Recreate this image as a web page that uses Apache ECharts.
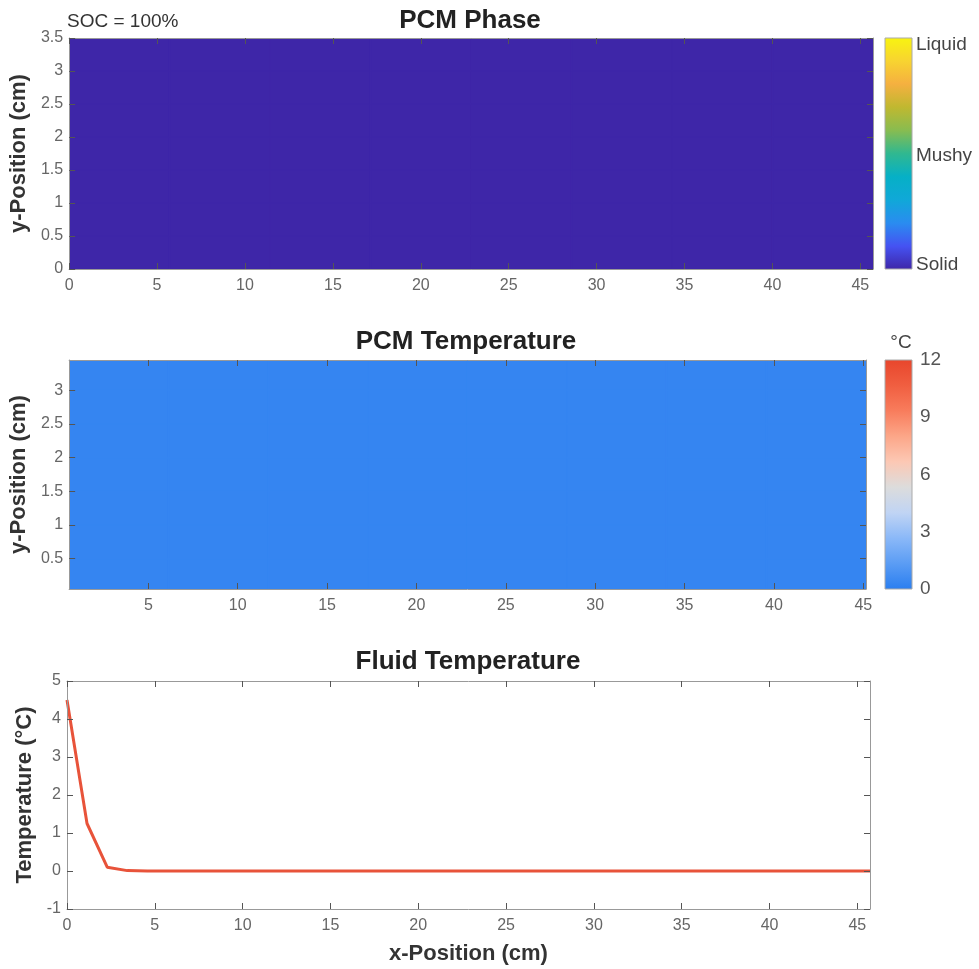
<!DOCTYPE html>
<html>
<head>
<meta charset="utf-8">
<script src="https://cdn.jsdelivr.net/npm/echarts@6/dist/echarts.min.js"></script>
<style>html,body{margin:0;padding:0;background:#fff;}#c{width:979px;height:969px;}</style>
</head>
<body>
<div id="c"></div>
<script>
// ---------- data ----------
const xTicks = [0, 5, 10, 15, 20, 25, 30, 35, 40, 45];
const xTicksTemp = [5, 10, 15, 20, 25, 30, 35, 40, 45];
const yTicksPhase = [0, 0.5, 1, 1.5, 2, 2.5, 3, 3.5];
const yTicksTemp = [0.5, 1, 1.5, 2, 2.5, 3];
const yTicksFluid = [-1, 0, 1, 2, 3, 4, 5];
const phaseCbTicks = [0.02, 0.49, 0.97];
const phaseCbLabels = ['Solid', 'Mushy', 'Liquid'];
const tempCbTicks = [0, 3, 6, 9, 12];

// PCM phase field (0 = solid, 1 = liquid): cell edges and values
const phaseXEdges = [0, 5.72, 11.43, 17.15, 22.86, 28.58, 34.29, 40.01, 45.72];
const phaseYEdges = [0, 0.5, 1, 1.5, 2, 2.5, 3, 3.5];
const phaseValues = [
  [0, 0, 0, 0, 0, 0, 0, 0],
  [0, 0, 0, 0, 0, 0, 0, 0],
  [0, 0, 0, 0, 0, 0, 0, 0],
  [0, 0, 0, 0, 0, 0, 0, 0],
  [0, 0, 0, 0, 0, 0, 0, 0],
  [0, 0, 0, 0, 0, 0, 0, 0],
  [0, 0, 0, 0, 0, 0, 0, 0]
];

// PCM temperature field (°C)
const tempXEdges = [0.57, 6.14, 11.71, 17.29, 22.86, 28.43, 34.00, 39.58, 45.15];
const tempYEdges = [0.05, 0.5, 1, 1.5, 2, 2.5, 3, 3.45];
const tempValues = [
  [0.3, 0.3, 0.3, 0.3, 0.3, 0.3, 0.3, 0.3],
  [0.3, 0.3, 0.3, 0.3, 0.3, 0.3, 0.3, 0.3],
  [0.3, 0.3, 0.3, 0.3, 0.3, 0.3, 0.3, 0.3],
  [0.3, 0.3, 0.3, 0.3, 0.3, 0.3, 0.3, 0.3],
  [0.3, 0.3, 0.3, 0.3, 0.3, 0.3, 0.3, 0.3],
  [0.3, 0.3, 0.3, 0.3, 0.3, 0.3, 0.3, 0.3],
  [0.3, 0.3, 0.3, 0.3, 0.3, 0.3, 0.3, 0.3]
];

// Fluid temperature along x
const fluidX = [0, 1.14, 2.29, 3.43, 4.57, 5.72, 6.86, 8.00, 9.15, 10.29, 11.43, 12.58, 13.72, 14.86,
  16.01, 17.15, 18.29, 19.44, 20.58, 21.72, 22.87, 24.01, 25.15, 26.30, 27.44, 28.58, 29.73, 30.87,
  32.01, 33.16, 34.30, 35.44, 36.59, 37.73, 38.87, 40.02, 41.16, 42.30, 43.45, 44.59, 45.73];
const fluidT = [4.5, 1.25, 0.1, 0.01, 0, 0, 0, 0, 0, 0, 0, 0, 0, 0,
  0, 0, 0, 0, 0, 0, 0, 0, 0, 0, 0, 0, 0, 0,
  0, 0, 0, 0, 0, 0, 0, 0, 0, 0, 0, 0, 0];

// colormaps
const parulaColors = ['#3e26a8', '#4552f2', '#2a8cf0', '#10a8d8', '#06b0c6', '#30b890', '#88bc50', '#c0b830', '#f5b040', '#f8d430', '#f8f410'];
const tempColors = ['#2a7ef0', '#5a9cf4', '#8ab8f8', '#c0d4f4', '#dcdcdc', '#fcc8b4', '#fca688', '#f87c5c', '#f05e40', '#e8462c'];

// ---------- build ----------
function cells(xe, ye, vals) {
  const out = [];
  for (let r = 0; r < vals.length; r++)
    for (let c = 0; c < vals[r].length; c++)
      out.push([xe[c], xe[c + 1], ye[r], ye[r + 1], vals[r][c]]);
  return out;
}
const phaseData = cells(phaseXEdges, phaseYEdges, phaseValues);
const tempData = cells(tempXEdges, tempYEdges, tempValues);
const fluidData = fluidX.map((x, i) => [x, fluidT[i]]);

function cellRender(params, api) {
  const p0 = api.coord([api.value(0), api.value(2)]);
  const p1 = api.coord([api.value(1), api.value(3)]);
  const col = api.visual('color');
  return {
    type: 'rect',
    shape: { x: p0[0], y: p1[1], width: p1[0] - p0[0], height: p0[1] - p1[1] },
    style: { fill: col, stroke: col, lineWidth: 1.5 }
  };
}
function stops(cols) {
  return cols.map((c, i) => ({ offset: i / (cols.length - 1), color: c }));
}
function barRender(cols) {
  return function (params, api) {
    const p0 = api.coord([api.value(0), api.value(2)]);
    const p1 = api.coord([api.value(1), api.value(3)]);
    return {
      type: 'rect',
      shape: { x: p0[0], y: p1[1], width: p1[0] - p0[0], height: p0[1] - p1[1] },
      style: { fill: { type: 'linear', x: 0, y: 1, x2: 0, y2: 0, colorStops: stops(cols) }, stroke: '#aaa', lineWidth: 1 }
    };
  };
}

const FONT = 'Liberation Sans, Arial, sans-serif';
const tickCol = '#555';
const labCol = '#666';
const nameStyle = { fontFamily: FONT, fontSize: 22, fontWeight: 'bold', color: '#333' };

function xAx(grid, min, max, ticks, pos, showLab, extra) {
  return Object.assign({
    type: 'value', gridIndex: grid, position: pos, min: min, max: max, z: 10,
    axisLine: { show: true, onZero: false, lineStyle: { color: '#999', width: 1 } },
    axisTick: { show: true, inside: true, length: 6, customValues: ticks, lineStyle: { color: tickCol } },
    axisLabel: { show: showLab, customValues: ticks, margin: 9, fontFamily: FONT, fontSize: 16, color: labCol },
    splitLine: { show: false }
  }, extra || {});
}
function yAx(grid, min, max, ticks, pos, showLab, extra) {
  return Object.assign({
    type: 'value', gridIndex: grid, position: pos, min: min, max: max, z: 10,
    axisLine: { show: true, onZero: false, lineStyle: { color: '#999', width: 1 } },
    axisTick: { show: true, inside: true, length: 6, customValues: ticks, lineStyle: { color: tickCol } },
    axisLabel: { show: showLab, customValues: ticks, margin: 6, fontFamily: FONT, fontSize: 16, color: labCol },
    splitLine: { show: false }
  }, extra || {});
}

const chart = echarts.init(document.getElementById('c'), null, { renderer: 'canvas' });
chart.setOption({
  backgroundColor: '#fff',
  animation: false,
  grid: [
    { left: 67, top: 38, width: 806, height: 231 },
    { left: 67, top: 360, width: 799, height: 229 },
    { left: 67, top: 681, width: 803, height: 228 },
    { left: 885, top: 38, width: 27, height: 231 },
    { left: 885, top: 360, width: 27, height: 229 }
  ],
  xAxis: [
    xAx(0, 0, 45.72, xTicks, 'bottom', true),
    xAx(0, 0, 45.72, xTicks, 'top', false),
    xAx(1, 0.57, 45.15, xTicksTemp, 'bottom', true),
    xAx(1, 0.57, 45.15, xTicksTemp, 'top', false),
    xAx(2, 0, 45.72, xTicks, 'bottom', true, {
      name: 'x-Position (cm)', nameLocation: 'middle', nameGap: 34, nameTextStyle: nameStyle
    }),
    xAx(2, 0, 45.72, xTicks, 'top', false),
    { type: 'value', gridIndex: 3, min: 0, max: 1, show: false },
    { type: 'value', gridIndex: 4, min: 0, max: 1, show: false }
  ],
  yAxis: [
    yAx(0, 0, 3.5, yTicksPhase, 'left', true, {
      name: 'y-Position (cm)', nameLocation: 'middle', nameGap: 30, nameTextStyle: nameStyle
    }),
    yAx(0, 0, 3.5, yTicksPhase, 'right', false),
    yAx(1, 0.05, 3.45, yTicksTemp, 'left', true, {
      name: 'y-Position (cm)', nameLocation: 'middle', nameGap: 30, nameTextStyle: nameStyle
    }),
    yAx(1, 0.05, 3.45, yTicksTemp, 'right', false),
    yAx(2, -1, 5, yTicksFluid, 'left', true, {
      name: 'Temperature (°C)', nameLocation: 'middle', nameGap: 24, nameTextStyle: nameStyle
    }),
    yAx(2, -1, 5, yTicksFluid, 'right', false),
    {
      type: 'value', gridIndex: 3, position: 'right', min: 0, max: 1, z: 10,
      axisLine: { show: false }, axisTick: { show: false }, splitLine: { show: false },
      axisLabel: {
        customValues: phaseCbTicks, margin: 4, fontFamily: FONT, fontSize: 19, color: '#444',
        formatter: v => phaseCbLabels[phaseCbTicks.indexOf(v)] || ''
      }
    },
    {
      type: 'value', gridIndex: 4, position: 'right', min: 0, max: 12, z: 10,
      axisLine: { show: false }, axisTick: { show: false }, splitLine: { show: false },
      axisLabel: { customValues: tempCbTicks, margin: 8, fontFamily: FONT, fontSize: 19, color: '#555' }
    }
  ],
  visualMap: [
    { type: 'continuous', show: false, seriesIndex: 0, dimension: 4, min: 0, max: 1, inRange: { color: parulaColors } },
    { type: 'continuous', show: false, seriesIndex: 1, dimension: 4, min: 0, max: 12, inRange: { color: tempColors } }
  ],
  series: [
    { type: 'custom', name: 'PCM Phase', xAxisIndex: 0, yAxisIndex: 0, clip: true,
      encode: { x: [0, 1], y: [2, 3] }, renderItem: cellRender, data: phaseData },
    { type: 'custom', name: 'PCM Temperature', xAxisIndex: 2, yAxisIndex: 2, clip: true,
      encode: { x: [0, 1], y: [2, 3] }, renderItem: cellRender, data: tempData },
    { type: 'line', name: 'Fluid Temperature', xAxisIndex: 4, yAxisIndex: 4, data: fluidData,
      showSymbol: false, symbol: 'none', lineStyle: { color: '#e8533a', width: 3 }, z: 5 },
    { type: 'custom', xAxisIndex: 6, yAxisIndex: 6, encode: { x: [0, 1], y: [2, 3] },
      renderItem: barRender(parulaColors), data: [[0, 1, 0, 1]] },
    { type: 'custom', xAxisIndex: 7, yAxisIndex: 7, encode: { x: [0, 1], y: [2, 3] },
      renderItem: barRender(tempColors), data: [[0, 1, 0, 12]] }
  ],
  graphic: [
    { type: 'text', x: 470, y: 21, style: { text: 'PCM Phase', font: 'bold 26px ' + FONT, fill: '#222', align: 'center', verticalAlign: 'middle' } },
    { type: 'text', x: 67, y: 22, style: { text: 'SOC = 100%', font: '19px ' + FONT, fill: '#333', align: 'left', verticalAlign: 'middle' } },
    { type: 'text', x: 466, y: 342, style: { text: 'PCM Temperature', font: 'bold 26px ' + FONT, fill: '#222', align: 'center', verticalAlign: 'middle' } },
    { type: 'text', x: 468, y: 662, style: { text: 'Fluid Temperature', font: 'bold 26px ' + FONT, fill: '#222', align: 'center', verticalAlign: 'middle' } },
    { type: 'text', x: 901, y: 343, style: { text: '°C', font: '19px ' + FONT, fill: '#444', align: 'center', verticalAlign: 'middle' } }
  ]
});
</script>
</body>
</html>
